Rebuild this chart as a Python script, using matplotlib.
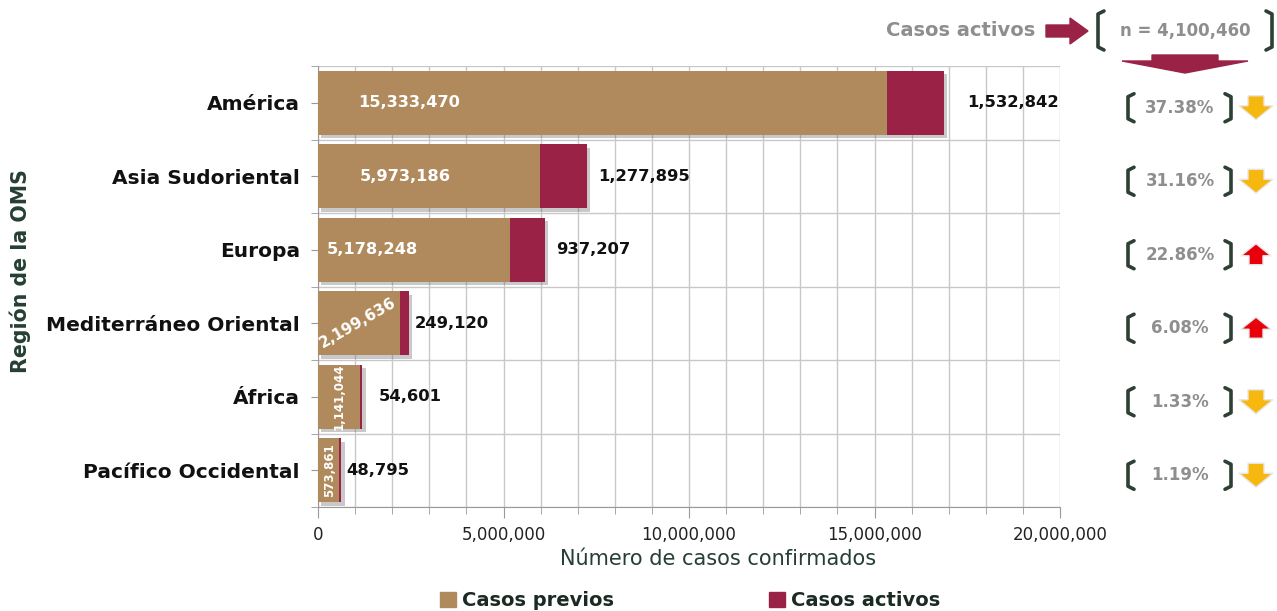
import numpy as np
import matplotlib.pyplot as plt
from matplotlib import patheffects as pe
from matplotlib.patches import Polygon, Patch
from matplotlib.lines import Line2D
from matplotlib.ticker import MultipleLocator, FuncFormatter

# datos
regiones = ["América", "Asia Sudoriental", "Europa", "Mediterráneo Oriental",
            "África", "Pacífico Occidental"]
casos_previos = [15333470, 5973186, 5178248, 2199636, 1141044, 573861]
casos_activos = [1532842, 1277895, 937207, 249120, 54601, 48795]
porcentajes = ["37.38%", "31.16%", "22.86%", "6.08%", "1.33%", "1.19%"]
tendencia = ["down", "down", "up", "up", "down", "down"]
total_activos = 4100460

# estilo
COLOR_PREVIOS = "#B08A5C"
COLOR_ACTIVOS = "#9B2247"
VERDE = "#263F33"
GRIS = "#8E8E8E"
AMARILLO = "#F6B70F"
ROJO = "#E8000B"

# posicion de las etiquetas blancas (fraccion de la barra), giro y tamano
frac_etiqueta = [0.07, 0.19, 0.047, 0.49, 0.50, 0.52]
giro_etiqueta = [0, 0, 0, 30, 90, 90]
tam_etiqueta = [11.7, 11.7, 11.7, 11, 8.5, 8.5]
sep_activos = [17, 8, 8, 4, 12, 4]  # puntos

plt.rcParams["font.family"] = ["DejaVu Sans"]

W, H = 1277, 611
fig = plt.figure(figsize=(W / 100, H / 100), dpi=100)
ax = fig.add_axes([318 / W, 1 - 507 / H, (1060 - 318) / W, (507 - 66) / H])

y = np.arange(len(regiones))
sombra = [pe.SimplePatchShadow(offset=(2.5, -2.5), shadow_rgbFace="#666666", alpha=0.35),
          pe.Normal()]
b1 = ax.barh(y, casos_previos, height=0.87, color=COLOR_PREVIOS, zorder=3)
b2 = ax.barh(y, casos_activos, left=casos_previos, height=0.87,
             color=COLOR_ACTIVOS, zorder=3)
for bar in list(b1) + list(b2):
    bar.set_path_effects(sombra)

# etiquetas
for i, (p, a) in enumerate(zip(casos_previos, casos_activos)):
    rot = giro_etiqueta[i]
    ax.text(p * frac_etiqueta[i], i, f"{p:,}", color="white",
            fontsize=tam_etiqueta[i], fontweight="bold",
            ha="left" if rot == 0 else "center", va="center", rotation=rot,
            zorder=5)
    ax.annotate(f"{a:,}", xy=(p + a, i), xytext=(sep_activos[i], 0),
                textcoords="offset points", ha="left", va="center",
                fontsize=11.8, fontweight="bold", color="#111111", zorder=5)

ax.set_xlim(0, 20000000)
ax.set_ylim(len(regiones) - 0.5, -0.5)
ax.xaxis.set_major_locator(MultipleLocator(5000000))
ax.xaxis.set_minor_locator(MultipleLocator(1000000))
ax.xaxis.set_major_formatter(FuncFormatter(lambda v, _: f"{int(v):,}"))
ax.set_yticks(y)
ax.set_yticklabels(regiones, fontsize=14.5, fontweight="bold", color="#111111")
ax.set_yticks(np.arange(-0.5, len(regiones)), minor=True)
ax.tick_params(axis="x", which="major", length=8, color="#999999",
               labelsize=12, labelcolor="#222222", pad=6)
ax.tick_params(axis="x", which="minor", length=5, color="#999999")
ax.tick_params(axis="y", which="both", length=5, color="#999999", pad=8)
ax.grid(True, which="minor", axis="both", color="#C8C8C8", linewidth=1, zorder=0)
ax.grid(True, which="major", axis="x", color="#C8C8C8", linewidth=1, zorder=0)
ax.set_axisbelow(True)
for s in ["top", "right"]:
    ax.spines[s].set_visible(False)
for s in ["left", "bottom"]:
    ax.spines[s].set_color("#999999")

ax.set_xlabel("Número de casos confirmados", fontsize=15, color=VERDE)
ax.xaxis.set_label_coords(0.539, -0.095)
ax.set_ylabel("Región de la OMS", fontsize=14.8, color=VERDE,
              fontweight="bold")
ax.yaxis.set_label_coords(-0.387, 0.535)

handles = [Patch(color=COLOR_PREVIOS, label="Casos previos"),
           Patch(color=COLOR_ACTIVOS, label="Casos activos")]
leg = fig.legend(handles=handles, loc="center", bbox_to_anchor=(690 / W, 1 - 601 / H),
                 ncol=2, frameon=False, columnspacing=8,
                 handlelength=0.8, handleheight=0.8, handletextpad=0.3,
                 prop={"weight": "bold", "size": 14})
for t in leg.get_texts():
    t.set_color("#1B2A22")

# capa de anotaciones en pixeles
ov = fig.add_axes([0, 0, 1, 1], zorder=10)
ov.set_xlim(0, W)
ov.set_ylim(H, 0)
ov.axis("off")
ov.patch.set_alpha(0)


def corchete(x, y0, y1, lado):
    d = 6 * lado
    ov.add_line(Line2D([x + d, x, x, x + d], [y0, y0 + 3, y1 - 3, y1],
                       color="#2E4034", lw=2.6, solid_joinstyle="round",
                       solid_capstyle="round"))


# encabezado
ov.text(1035, 31, "Casos activos", ha="right", va="center", fontsize=14,
        fontweight="bold", color=GRIS)
ov.add_patch(Polygon([(1046, 25), (1070, 25), (1070, 18), (1088, 31), (1070, 44),
                      (1070, 37), (1046, 37)], closed=True, color=COLOR_ACTIVOS))
corchete(1098, 11, 50, 1)
corchete(1272, 11, 50, -1)
ov.text(1185, 31, f"n = {total_activos:,}", ha="center", va="center", fontsize=12,
        fontweight="bold", color=GRIS)
ov.add_patch(Polygon([(1152, 55), (1218, 55), (1218, 61), (1248, 61), (1185, 73),
                      (1122, 61), (1152, 61)], closed=True, color=COLOR_ACTIVOS))

# porcentajes
for i, (pct, t) in enumerate(zip(porcentajes, tendencia)):
    yc = 66 + (i + 0.5) * 73.5 + 5
    corchete(1128, yc - 14, yc + 14, 1)
    corchete(1231, yc - 14, yc + 14, -1)
    ov.text(1180, yc, pct, ha="center", va="center", fontsize=12,
            fontweight="bold", color=GRIS)
    xc = 1256
    if t == "down":
        pts = [(xc - 8, yc - 12), (xc + 8, yc - 12), (xc + 8, yc - 2), (xc + 17, yc - 2),
               (xc, yc + 12), (xc - 17, yc - 2), (xc - 8, yc - 2)]
        col = AMARILLO
    else:
        pts = [(xc - 7, yc + 10), (xc + 7, yc + 10), (xc + 7, yc + 1), (xc + 15, yc + 1),
               (xc, yc - 11), (xc - 15, yc + 1), (xc - 7, yc + 1)]
        col = ROJO
    ov.add_patch(Polygon(pts, closed=True, facecolor=col, edgecolor="#E8E8E8", lw=1))

fig.savefig("out.png", dpi=100)
